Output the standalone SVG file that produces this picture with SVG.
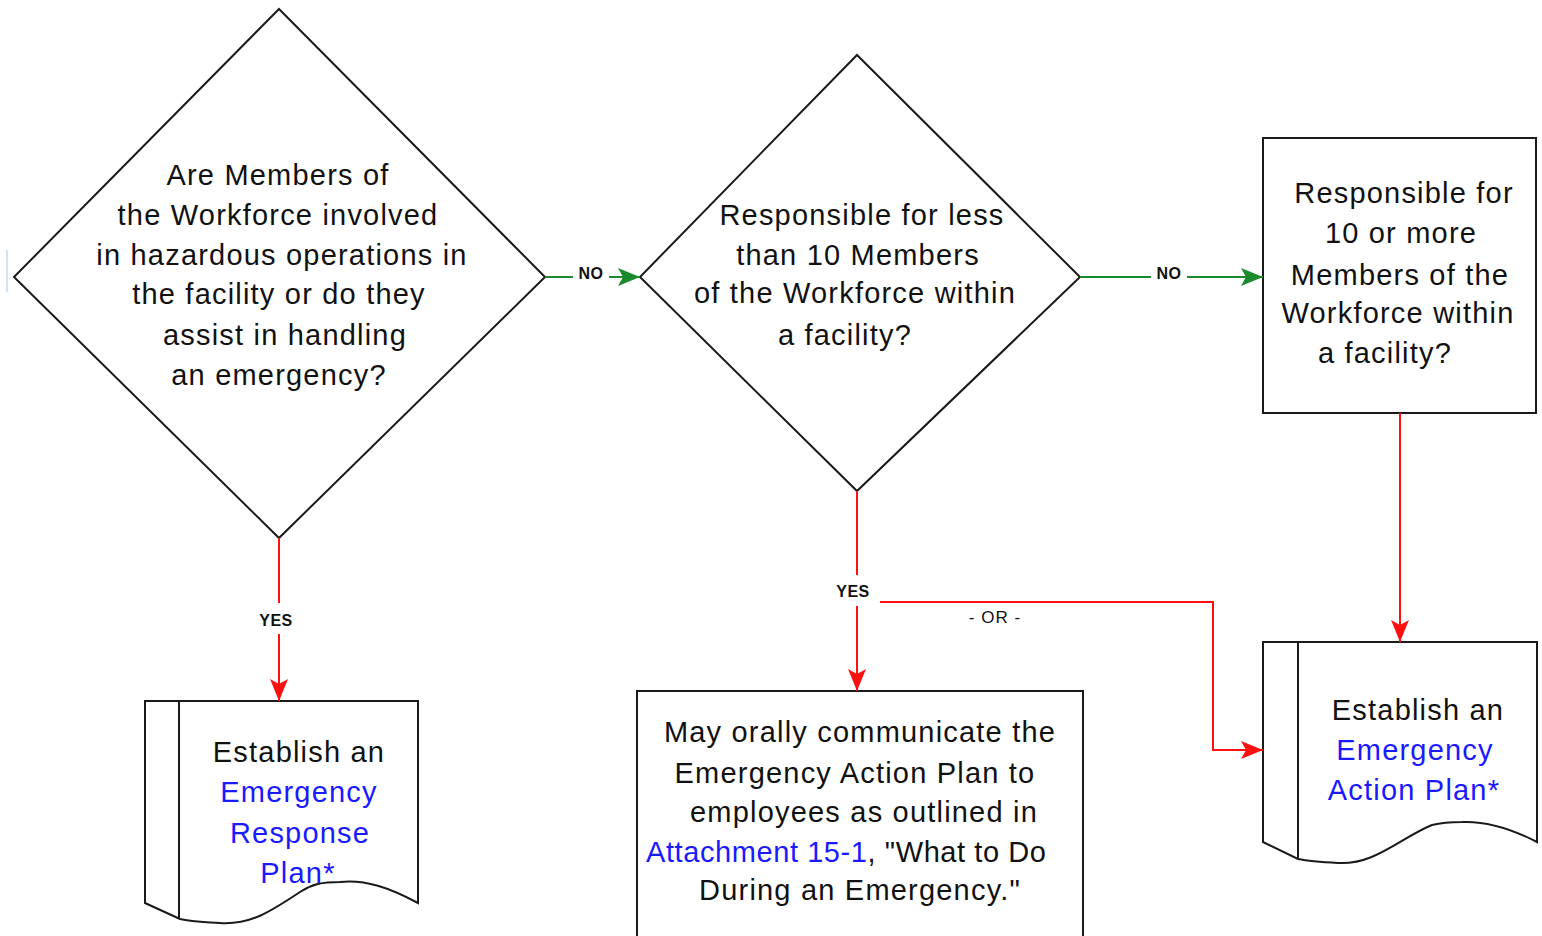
<svg xmlns="http://www.w3.org/2000/svg" width="1542" height="936" viewBox="0 0 1542 936">
  <style>
    .shape { fill: #ffffff; stroke: #1a1a1a; stroke-width: 2; }
    .txt { font-family: "Liberation Sans", Arial, sans-serif; font-size: 29px; letter-spacing: 1.2px; fill: #111111; text-anchor: middle; }
    .link { fill: #1a1aff; }
    .lbl { font-family: "Liberation Sans", Arial, sans-serif; font-size: 16px; font-weight: bold; fill: #111111; text-anchor: middle; letter-spacing: 0.5px; }
    .or { font-family: "Liberation Sans", Arial, sans-serif; font-size: 17px; fill: #111111; text-anchor: middle; letter-spacing: 1px; }
    .red { fill: none; stroke: #ff1010; stroke-width: 2; }
    .green { fill: none; stroke: #1c8a2c; stroke-width: 2; }
  </style>
  <defs>
    <marker id="arrRed" markerWidth="22" markerHeight="20" refX="22" refY="10" orient="auto" markerUnits="userSpaceOnUse">
      <path d="M0,1 L22,10 L0,19 L5,10 Z" fill="#ff1010"/>
    </marker>
    <marker id="arrGreen" markerWidth="22" markerHeight="20" refX="22" refY="10" orient="auto" markerUnits="userSpaceOnUse">
      <path d="M0,1 L22,10 L0,19 L5,10 Z" fill="#1c8a2c"/>
    </marker>
  </defs>

  <rect width="1542" height="936" fill="#ffffff"/>
  <!-- faint edge mark at far left -->
  <line x1="7" y1="250" x2="7" y2="292" stroke="#cfe4f6" stroke-width="2"/>

  <!-- Decision: hazardous operations -->
  <g id="q-hazardous">
    <polygon class="shape" points="279,9 545,277 279,538 14,277"/>
    <text class="txt" x="278" y="185">Are Members of</text>
    <text class="txt" x="278" y="225">the Workforce involved</text>
    <text class="txt" x="282" y="265">in hazardous operations in</text>
    <text class="txt" x="279" y="304">the facility or do they</text>
    <text class="txt" x="285" y="345">assist in handling</text>
    <text class="txt" x="279" y="385">an emergency?</text>
  </g>

  <!-- Decision: fewer than 10 members -->
  <g id="q-less-than-10">
    <polygon class="shape" points="857,55 1080,277 857,491 640,277"/>
    <text class="txt" x="862" y="225">Responsible for less</text>
    <text class="txt" x="858" y="265">than 10 Members</text>
    <text class="txt" x="855" y="303">of the Workforce within</text>
    <text class="txt" x="845" y="345">a facility?</text>
  </g>

  <!-- Process: 10 or more members -->
  <g id="q-10-or-more">
    <rect class="shape" x="1263" y="138" width="273" height="275"/>
    <text class="txt" x="1404" y="203">Responsible for</text>
    <text class="txt" x="1401" y="243">10 or more</text>
    <text class="txt" x="1400" y="285">Members of the</text>
    <text class="txt" x="1398" y="323">Workforce within</text>
    <text class="txt" x="1385" y="363">a facility?</text>
  </g>

  <!-- Document: Emergency Response Plan -->
  <g id="doc-response-plan">
    <path class="shape" d="M145,701 L418,701 L418,903 C390,888 365,879 340,882 C322,882 312,884 300,892 C270,912 250,925 220,923 C205,922 192,922 180,919 L145,903 Z"/>
    <line x1="179" y1="701" x2="179" y2="919" stroke="#1a1a1a" stroke-width="2"/>
    <text class="txt" x="299" y="762">Establish an</text>
    <text class="txt link" x="299" y="802">Emergency</text>
    <text class="txt link" x="300" y="843">Response</text>
    <text class="txt link" x="298" y="883">Plan*</text>
  </g>

  <!-- Process: orally communicate -->
  <g id="oral-communication">
    <rect class="shape" x="637" y="691" width="446" height="260"/>
    <text class="txt" x="860" y="742">May orally communicate the</text>
    <text class="txt" x="855" y="783">Emergency Action Plan to</text>
    <text class="txt" x="864" y="822">employees as outlined in</text>
    <text class="txt" x="646" y="862" textLength="400" lengthAdjust="spacing" style="text-anchor:start;letter-spacing:0"><tspan class="link">Attachment 15-1</tspan>, "What to Do</text>
    <text class="txt" x="860" y="900">During an Emergency."</text>
  </g>

  <!-- Document: Emergency Action Plan -->
  <g id="doc-action-plan">
    <path class="shape" d="M1263,642 L1537,642 L1537,842 C1510,828 1485,821 1462,822 C1448,822 1440,823 1432,825 C1400,838 1375,865 1338,863 C1320,862 1308,861 1298,859 L1263,842 Z"/>
    <line x1="1298" y1="642" x2="1298" y2="859" stroke="#1a1a1a" stroke-width="2"/>
    <text class="txt" x="1418" y="720">Establish an</text>
    <text class="txt link" x="1415" y="760">Emergency</text>
    <text class="txt link" x="1414" y="800">Action Plan*</text>
  </g>

  <!-- Connectors -->
  <g id="connectors">
    <!-- NO: hazardous -> fewer than 10 -->
    <line class="green" x1="545" y1="277" x2="573" y2="277"/>
    <line class="green" x1="609" y1="277" x2="640" y2="277" marker-end="url(#arrGreen)"/>
    <text class="lbl" x="591" y="279">NO</text>

    <!-- NO: fewer than 10 -> 10 or more -->
    <line class="green" x1="1080" y1="277" x2="1151" y2="277"/>
    <line class="green" x1="1187" y1="277" x2="1263" y2="277" marker-end="url(#arrGreen)"/>
    <text class="lbl" x="1169" y="279">NO</text>

    <!-- YES: hazardous -> response plan -->
    <line class="red" x1="279" y1="538" x2="279" y2="603"/>
    <line class="red" x1="279" y1="634" x2="279" y2="701" marker-end="url(#arrRed)"/>
    <text class="lbl" x="276" y="626">YES</text>

    <!-- YES: fewer than 10 -> oral communication -->
    <line class="red" x1="857" y1="491" x2="857" y2="575"/>
    <line class="red" x1="857" y1="606" x2="857" y2="691" marker-end="url(#arrRed)"/>
    <text class="lbl" x="853" y="597">YES</text>

    <!-- OR branch -> action plan -->
    <polyline class="red" points="880,602 1213,602 1213,750 1263,750" marker-end="url(#arrRed)"/>
    <text class="or" x="995" y="623">- OR -</text>

    <!-- 10 or more -> action plan -->
    <line class="red" x1="1400" y1="413" x2="1400" y2="642" marker-end="url(#arrRed)"/>
  </g>
</svg>
